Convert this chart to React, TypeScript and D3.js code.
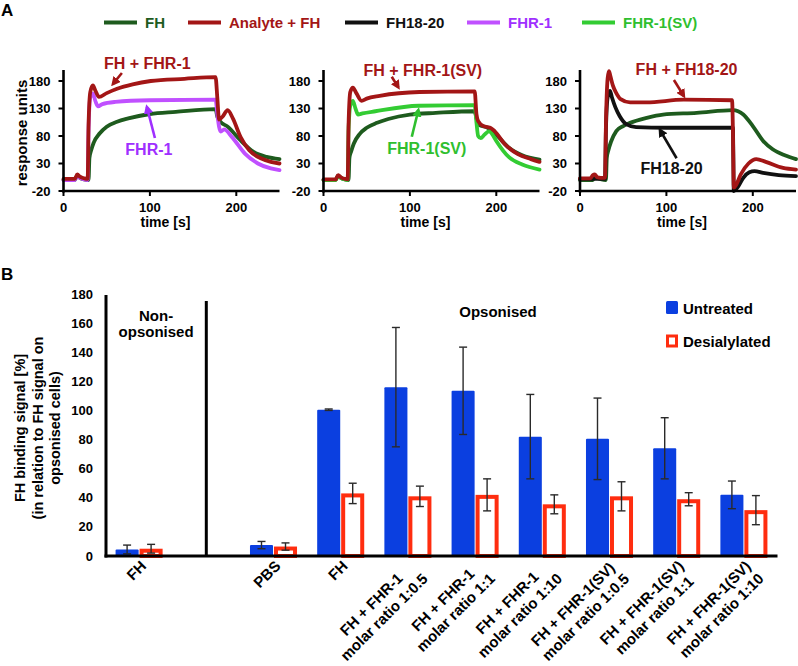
import React from "react";
import * as d3 from "d3";

type Pt = [number, number];

const FONT = "'Liberation Sans', Arial, Helvetica, sans-serif";

// ================= Panel A: sensorgrams (time [s], response units) =================
const legendLabels = ["FH", "Analyte + FH", "FH18-20", "FHR-1", "FHR-1(SV)"];
const legendLineColors = ["#1e5b1e", "#a31616", "#111111", "#c050ff", "#33cc33"];
const legendTextColors = ["#1e5b1e", "#a31616", "#111111", "#9f30ff", "#2fbf2f"];

const xTicksA = [0, 100, 200];
const yTicksA = [-20, 30, 80, 130, 180];

// Panel 1: FH + FHR-1
const p1FH: Pt[] = [[0,0],[13,0],[16,8],[19,4],[24,1],[29,0],[30,40],[32,54],[35,68],[42,85],[50,97],[62,106],[75,112],[100,120],[130,124],[176,129],[178,115],[181,107],[190,97],[205,72],[220,51],[235,42],[250,38]];
const p1FHR1: Pt[] = [[0,0],[13,0],[16,7],[19,4],[24,1],[28,0],[29,90],[31,150],[34,157],[37,143],[40,134],[45,138],[60,142],[100,145],[176,146],[178,120],[180,97],[182,88],[186,92],[195,78],[210,48],[225,30],[240,21],[250,18]];
const p1Mix: Pt[] = [[0,2],[13,2],[16,10],[19,6],[24,3],[28,2],[29,100],[31,160],[34,172],[37,162],[41,151],[50,158],[62,166],[80,174],[101,180],[140,184],[176,187],[178,150],[180,110],[184,115],[190,127],[196,112],[205,78],[215,54],[229,39],[240,33],[250,30]];

// Panel 2: FH + FHR-1(SV)
const p2FH: Pt[] = [[0,0],[14,0],[17,8],[20,4],[25,1],[29,0],[30,40],[32,52],[35,66],[42,84],[50,95],[62,104],[75,111],[100,119],[130,122],[175,125],[177,112],[180,100],[190,95],[200,82],[215,58],[230,45],[250,37]];
const p2SV: Pt[] = [[0,0],[14,0],[17,7],[20,4],[25,1],[28,0],[29,90],[31,135],[34,144],[37,130],[40,119],[45,121],[60,125],[110,135],[175,136],[177,105],[179,80],[182,76],[186,82],[192,89],[195,84],[200,71],[215,41],[230,28],[250,19]];
const p2Mix: Pt[] = [[0,1],[14,1],[17,9],[20,5],[25,2],[28,1],[29,100],[31,160],[34,168],[38,158],[44,144],[50,148],[65,153],[111,160],[175,161],[177,120],[179,107],[185,98],[190,96],[193,95],[198,89],[210,65],[225,47],[240,38],[250,33]];

// Panel 3: FH + FH18-20
const p3FH: Pt[] = [[0,0],[15,0],[17,7],[20,4],[25,1],[30,0],[31,40],[33,55],[36,70],[42,89],[50,98],[58,104],[77,113],[96,119],[135,122],[177,127],[183,125],[189,119],[200,98],[212,71],[223,56],[237,45],[250,38]];
const p3FH1820: Pt[] = [[0,2],[29,2],[30,90],[32,150],[34.7,162],[37,150],[41,132],[46,116],[54,101],[65,96],[100,95],[177,95],[177.5,40],[178,-20],[183,-12],[189,4],[196,14],[202,16],[212,13],[230,9],[250,7]];
const p3Mix: Pt[] = [[0,3],[12,3],[15,9],[17,10],[20,5],[24,4],[29,4],[30,100],[32,185],[33.5,198],[35,190],[38,172],[42,158],[47,147],[58,141],[77,141],[120,146],[176,145],[177,90],[178,-14],[181,-8],[186,10],[195,30],[204,38],[215,33],[235,22],[250,19]];

// Annotations (data units): text position, arrow start, arrow end
const p1Notes = [
  { text: "FH + FHR-1", color: 1, at: [97, 202] as Pt, from: [67.6, 194.5] as Pt, to: [57.2, 174.5] as Pt },
  { text: "FHR-1", color: 3, at: [98.8, 45.5] as Pt, from: [105.8, 76.4] as Pt, to: [96.5, 132.7] as Pt },
];
const p2Notes = [
  { text: "FH + FHR-1(SV)", color: 1, at: [115, 189] as Pt, from: [79, 187.8] as Pt, to: [86.6, 168.5] as Pt },
  { text: "FHR-1(SV)", color: 4, at: [119.5, 47] as Pt, from: [102.2, 78.7] as Pt, to: [109.8, 127.3] as Pt },
];
const p3Notes = [
  { text: "FH + FH18-20", color: 1, at: [123.3, 191] as Pt, from: [108.7, 181.8] as Pt, to: [120.2, 152.7] as Pt },
  { text: "FH18-20", color: 2, at: [106, 10.4] as Pt, from: [111.8, 39.5] as Pt, to: [92.5, 90.9] as Pt },
];

// ================= Panel B: bar chart =================
const bLabels = [
  "FH",
  "PBS",
  "FH",
  "FH + FHR-1\nmolar ratio 1:0.5",
  "FH + FHR-1\nmolar ratio 1:1",
  "FH + FHR-1\nmolar ratio 1:10",
  "FH + FHR-1(SV)\nmolar ratio 1:0.5",
  "FH + FHR-1(SV)\nmolar ratio 1:1",
  "FH + FHR-1(SV)\nmolar ratio 1:10",
];
const bOpsonised = [false, true, true, true, true, true, true, true, true];
const untreated = [4.5, 7.5, 100.5, 116, 113.5, 82, 80.5, 74, 42];
const untreatedErr = [3, 2.5, 0.5, 41, 30, 29, 28, 21, 9.5];
const desialylated = [5, 6.5, 43, 41, 42, 35.5, 41, 39, 31.5];
const desialylatedErr = [3, 2.5, 7, 7, 11, 6.5, 10, 4.5, 10];
const yTicksB = [0, 20, 40, 60, 80, 100, 120, 140, 160, 180];

const BLUE = "#0b3fe0";
const RED = "#ff2d0f";

let ctx: CanvasRenderingContext2D | null = null;
function measure(text: string, font: string): number {
  if (!ctx) ctx = document.createElement("canvas").getContext("2d");
  if (!ctx) return text.length * 8;
  ctx.font = font;
  return ctx.measureText(text).width;
}

function SprPanel({ x0, series, notes, id }: { x0: number; series: { data: Pt[]; color: string }[]; notes: typeof p1Notes; id: string }) {
  const x = d3.scaleLinear().domain([0, 250]).range([x0, x0 + 216]);
  const y = d3.scaleLinear().domain([-20, 200]).range([191, 70]);
  const line = d3.line<Pt>().x((d) => x(d[0])).y((d) => y(d[1])).curve(d3.curveMonotoneX);
  return (
    <g>
      <defs>
        {notes.map((n, i) => (
          <marker key={i} id={`${id}-m${i}`} viewBox="0 0 10 10" refX="7" refY="5" markerWidth="3.6" markerHeight="3.6" orient="auto">
            <path d="M0,0 L10,5 L0,10 z" fill={legendTextColors[n.color]} />
          </marker>
        ))}
      </defs>
      {series.map((s, i) => (
        <path key={i} d={line(s.data) || ""} fill="none" stroke={s.color} strokeWidth={3.8} strokeLinejoin="round" strokeLinecap="round" />
      ))}
      {/* axes */}
      <line x1={x0} x2={x0} y1={y(200)} y2={y(-20) + 1.5} stroke="#000" strokeWidth={2.6} />
      <line x1={x0 - 1.3} x2={x(250)} y1={y(-20)} y2={y(-20)} stroke="#000" strokeWidth={2.6} />
      {yTicksA.map((t) => (
        <g key={t}>
          <line x1={x0 - 5} x2={x0} y1={y(t)} y2={y(t)} stroke="#000" strokeWidth={2} />
          <text x={x0 - 13} y={y(t)} dy="0.35em" textAnchor="end" fontSize={13} fontWeight="bold" fontFamily={FONT}>{t}</text>
        </g>
      ))}
      {xTicksA.map((t) => (
        <g key={t}>
          <line x1={x(t)} x2={x(t)} y1={y(-20)} y2={y(-20) + 5} stroke="#000" strokeWidth={2} />
          <text x={x(t)} y={212} textAnchor="middle" fontSize={13} fontWeight="bold" fontFamily={FONT}>{t}</text>
        </g>
      ))}
      <text x={x(118)} y={227} textAnchor="middle" fontSize={14} fontWeight="bold" fontFamily={FONT}>time [s]</text>
      {notes.map((n, i) => (
        <g key={i}>
          <text x={x(n.at[0])} y={y(n.at[1])} textAnchor="middle" fontSize={16} fontWeight="bold" fontFamily={FONT} fill={legendTextColors[n.color]}>{n.text}</text>
          <line x1={x(n.from[0])} y1={y(n.from[1])} x2={x(n.to[0])} y2={y(n.to[1])} stroke={legendTextColors[n.color]} strokeWidth={2.6} markerEnd={`url(#${id}-m${i})`} />
        </g>
      ))}
    </g>
  );
}

export default function App() {
  const legendX = [104, 188, 345, 467, 582];

  // Panel B scales
  const slots = bOpsonised.map((o, i) => i + (o ? 1 : 0));
  const xB = d3.scaleBand<number>().domain(d3.range(10)).range([105.5, 777.5]);
  const cx = (slot: number) => (xB(slot) as number) + xB.bandwidth() / 2;
  const yB = d3.scaleLinear().domain([0, 180]).range([556, 294]);
  const inner = d3.scaleBand<string>().domain(["u", "d"]).range([-24, 24]).paddingInner(0.04).paddingOuter(0.02);
  const bw = inner.bandwidth();
  const labelSize = 15;
  const labelFont = `bold ${labelSize}px ${FONT}`;

  return (
    <svg width={798} height={666} style={{ position: "absolute", left: 0, top: 0, background: "#fff" }} fontFamily={FONT}>
      <rect width={798} height={666} fill="#fff" />
      {/* Panel labels */}
      <text x={1} y={16} fontSize={17} fontWeight="bold">A</text>
      <text x={1} y={280} fontSize={17} fontWeight="bold">B</text>

      {/* Legend A */}
      {legendLabels.map((l, i) => (
        <g key={l}>
          <line x1={legendX[i]} x2={legendX[i] + 33} y1={22.5} y2={22.5} stroke={legendLineColors[i]} strokeWidth={4} />
          <text x={legendX[i] + 41} y={28} fontSize={15} fontWeight="bold" fill={legendTextColors[i]}>{l}</text>
        </g>
      ))}

      <text transform="translate(27,133) rotate(-90)" textAnchor="middle" fontSize={15} fontWeight="bold">response units</text>

      <SprPanel id="p1" x0={63.5} notes={p1Notes} series={[
        { data: p1FH, color: legendLineColors[0] },
        { data: p1FHR1, color: legendLineColors[3] },
        { data: p1Mix, color: legendLineColors[1] },
      ]} />
      <SprPanel id="p2" x0={323.5} notes={p2Notes} series={[
        { data: p2FH, color: legendLineColors[0] },
        { data: p2SV, color: legendLineColors[4] },
        { data: p2Mix, color: legendLineColors[1] },
      ]} />
      <SprPanel id="p3" x0={580} notes={p3Notes} series={[
        { data: p3FH, color: legendLineColors[0] },
        { data: p3FH1820, color: legendLineColors[2] },
        { data: p3Mix, color: legendLineColors[1] },
      ]} />

      {/* ========== Panel B ========== */}
      <g fontWeight="bold">
        <text transform="translate(25,428) rotate(-90)" textAnchor="middle" fontSize={14.5}>FH binding signal [%]</text>
        <text transform="translate(42.5,428) rotate(-90)" textAnchor="middle" fontSize={14.5}>(in relation to FH signal on</text>
        <text transform="translate(60,428) rotate(-90)" textAnchor="middle" fontSize={14.5}>opsonised cells)</text>
        {yTicksB.map((t) => (
          <text key={t} x={93} y={yB(t)} dy="0.35em" textAnchor="end" fontSize={13}>{t}</text>
        ))}
        <text x={cx(0) + 17} y={321} textAnchor="middle" fontSize={15}>Non-</text>
        <text x={cx(0) + 17} y={337} textAnchor="middle" fontSize={15}>opsonised</text>
        <text x={498} y={317} textAnchor="middle" fontSize={15}>Opsonised</text>

        {/* legend B */}
        <rect x={666} y={301} width={12} height={13} rx={1.5} fill={BLUE} />
        <text x={683} y={313.5} fontSize={15}>Untreated</text>
        <rect x={667.5} y={336} width={9} height={10} fill="#fff" stroke={RED} strokeWidth={3} />
        <text x={683} y={346.5} fontSize={15}>Desialylated</text>
      </g>

      {/* bars */}
      {bLabels.map((_, i) => {
        const c = cx(slots[i]);
        const ux = c + (inner("u") as number);
        const dx = c + (inner("d") as number);
        return (
          <g key={i}>
            <rect x={ux} y={yB(untreated[i])} width={bw} height={yB(0) - yB(untreated[i])} fill={BLUE} rx={1} />
            <rect x={dx + 2} y={yB(desialylated[i]) + 2} width={bw - 4} height={yB(0) - yB(desialylated[i]) - 2} fill="#fff" stroke={RED} strokeWidth={4} />
            {[
              { x: ux + bw / 2, v: untreated[i], e: untreatedErr[i] },
              { x: dx + bw / 2, v: desialylated[i], e: desialylatedErr[i] },
            ].map((eb, k) => (
              <g key={k} stroke="#2a2a2a" strokeWidth={1.4}>
                <line x1={eb.x} x2={eb.x} y1={yB(eb.v + eb.e)} y2={yB(Math.max(0, eb.v - eb.e))} />
                <line x1={eb.x - 4} x2={eb.x + 4} y1={yB(eb.v + eb.e)} y2={yB(eb.v + eb.e)} />
                <line x1={eb.x - 4} x2={eb.x + 4} y1={yB(Math.max(0, eb.v - eb.e))} y2={yB(Math.max(0, eb.v - eb.e))} />
              </g>
            ))}
          </g>
        );
      })}

      {/* axes B */}
      <line x1={106} x2={106} y1={295} y2={557.5} stroke="#000" strokeWidth={3} />
      <line x1={104.5} x2={777.5} y1={556} y2={556} stroke="#000" strokeWidth={3} />
      <line x1={cx(1)} x2={cx(1)} y1={301} y2={556} stroke="#000" strokeWidth={3} />

      {/* x labels B */}
      {bLabels.map((lab, i) => {
        const lines = lab.split("\n");
        const widths = lines.map((l) => measure(l, labelFont));
        const maxW = Math.max(...widths);
        const c = cx(slots[i]);
        return (
          <g key={i} transform={`translate(${c + 8},567) rotate(-45)`}>
            {lines.map((l, k) => (
              <text key={k} x={-maxW / 2} y={k * 18} textAnchor="middle" fontSize={labelSize} fontWeight="bold">{l}</text>
            ))}
          </g>
        );
      })}
    </svg>
  );
}
